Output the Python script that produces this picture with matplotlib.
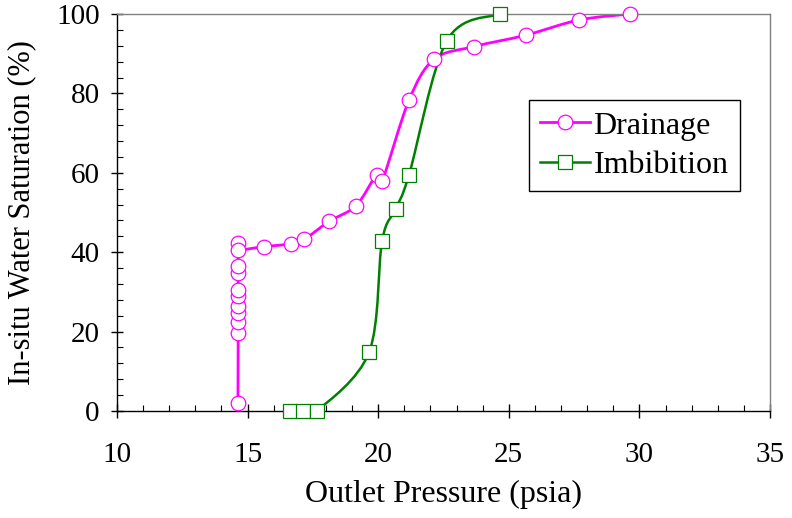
import numpy as np
import matplotlib
matplotlib.use("Agg")
import matplotlib.pyplot as plt
from matplotlib.path import Path
from matplotlib.patches import PathPatch
from matplotlib.ticker import MultipleLocator
from matplotlib.lines import Line2D

plt.rcParams['font.family'] = ['Liberation Serif', 'DejaVu Serif']

drain_p = [14.63, 14.64, 14.64, 14.64, 14.64, 14.64, 14.64, 14.64, 14.64, 14.64, 14.64,
           15.63, 16.65, 17.16, 18.13, 19.15, 19.94, 20.15, 21.18, 22.14, 23.67, 25.67, 27.69, 29.64]
drain_s = [1.9, 19.7, 22.5, 24.8, 26.4, 29.0, 30.5, 34.7, 36.5, 42.2, 40.6,
           41.4, 42.1, 43.2, 47.8, 51.7, 59.5, 57.9, 78.3, 88.6, 91.8, 94.7, 98.5, 100.0]

imb_p = [16.62, 17.13, 17.65, 19.65, 20.15, 20.68, 21.18, 22.63, 24.65]
imb_s = [0.0, 0.0, 0.0, 14.8, 42.9, 51.0, 59.5, 93.3, 100.0]

x_ticks = [10, 15, 20, 25, 30, 35]
y_ticks = [0, 20, 40, 60, 80, 100]

MAGENTA = '#FF00FF'
GREEN = '#008000'


def smooth_path(xs, ys):
    pts = np.column_stack([xs, ys]).astype(float)
    n = len(pts)
    verts = [pts[0]]
    codes = [Path.MOVETO]
    for i in range(n - 1):
        p0 = pts[i - 1] if i > 0 else pts[i]
        p1 = pts[i]
        p2 = pts[i + 1]
        p3 = pts[i + 2] if i + 2 < n else pts[i + 1]
        c1 = p1 + (p2 - p0) / 6.0
        c2 = p2 - (p3 - p1) / 6.0
        verts += [c1, c2, p2]
        codes += [Path.CURVE4] * 3
    return Path(verts, codes)


fig = plt.figure(figsize=(7.92, 5.18), dpi=100)
ax = fig.add_axes([117 / 792, 1 - 411 / 518, (770 - 117) / 792, (411 - 14) / 518])

ax.add_patch(PathPatch(smooth_path(drain_p, drain_s), facecolor='none', edgecolor=MAGENTA,
                       lw=2.0, zorder=2))
ax.add_patch(PathPatch(smooth_path(imb_p, imb_s), facecolor='none', edgecolor=GREEN,
                       lw=1.8, zorder=2))
ax.plot(drain_p, drain_s, ls='none', marker='o', ms=10.5, mfc='white', mec=MAGENTA,
        mew=0.9, zorder=3, clip_on=False)
ax.plot(imb_p, imb_s, ls='none', marker='s', ms=9.6, mfc='white', mec=GREEN,
        mew=0.9, zorder=3, clip_on=False)

ax.set_xlim(10, 35)
ax.set_ylim(0, 100)
ax.set_xticks(x_ticks)
ax.set_yticks(y_ticks)
ax.xaxis.set_minor_locator(MultipleLocator(1))
ax.yaxis.set_minor_locator(MultipleLocator(4))
ax.tick_params(which='major', direction='inout', length=10, width=1, labelsize=21, colors='black')
ax.tick_params(axis='y', which='major', length=9)
ax.tick_params(which='minor', direction='in', length=4.3, width=0.8)
ax.tick_params(axis='x', which='major', pad=17)
ax.tick_params(axis='y', which='major', pad=8)

for s in ['top', 'right']:
    ax.spines[s].set_color('#808080')
    ax.spines[s].set_linewidth(1.0)
for s in ['left', 'bottom']:
    ax.spines[s].set_color('black')
    ax.spines[s].set_linewidth(1.0)

ax.set_xlabel('Outlet Pressure (psia)', fontsize=23, labelpad=9)
ax.set_ylabel('In-situ Water Saturation (%)', fontsize=22, labelpad=14)

handles = [Line2D([], [], color=MAGENTA, lw=2.0, marker='o', ms=10.5, mfc='white', mec=MAGENTA, mew=0.9),
           Line2D([], [], color=GREEN, lw=1.8, marker='s', ms=9.6, mfc='white', mec=GREEN, mew=0.9)]
leg = ax.legend(handles, ['Drainage', 'Imbibition'], loc='upper left',
                bbox_to_anchor=((529 - 117) / 653, (411 - 100) / 397),
                fontsize=23, frameon=True, fancybox=False, framealpha=1,
                edgecolor='black', handlelength=1.55, handletextpad=0.12,
                borderpad=0.35, labelspacing=0.32, borderaxespad=0)
leg.get_frame().set_linewidth(1.0)

fig.savefig('out.png', dpi=100)
